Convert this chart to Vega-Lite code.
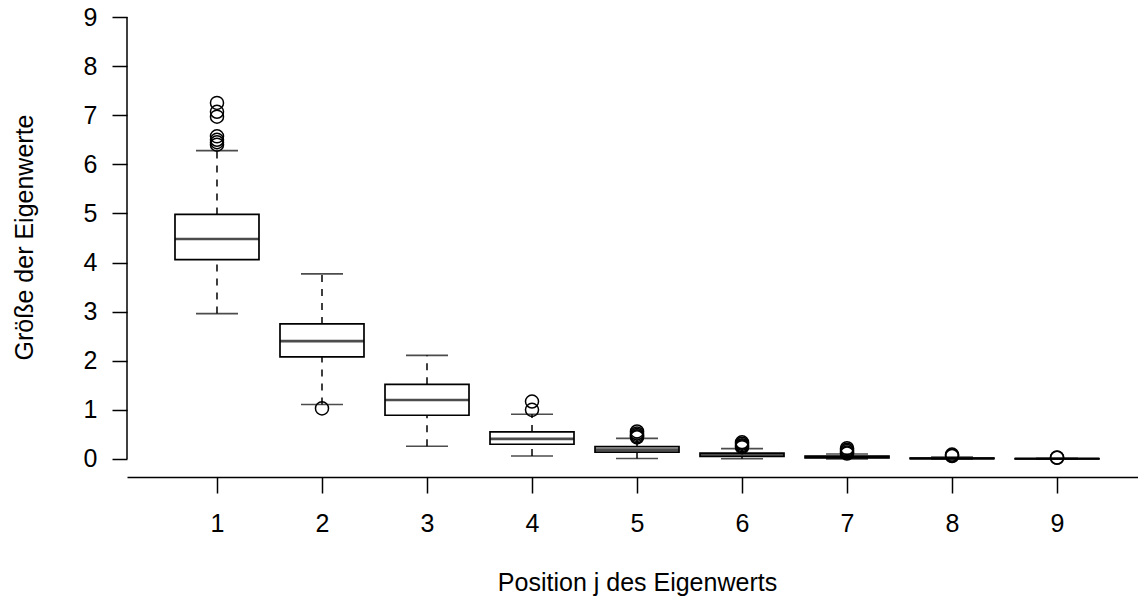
{
  "$schema": "https://vega.github.io/schema/vega-lite/v6.json",
  "autosize": {"type": "none"},
  "width": 1011,
  "height": 460,
  "padding": {"left": 127, "top": 17, "right": 0, "bottom": 121},
  "background": "white",
  "config": {
    "view": {"stroke": null},
    "font": "Liberation Sans",
    "axis": {"labelFont": "Liberation Sans", "titleFont": "Liberation Sans", "labelColor": "black", "titleColor": "black", "titleFontWeight": "normal", "grid": false, "domainColor": "black", "tickColor": "black", "labelFontSize": 25, "titleFontSize": 25, "tickWidth": 1.5, "domainWidth": 1.5}
  },
  "datasets": {
    "boxes": [
      {"pos": 1, "lo": 2.96, "q1": 4.06, "med": 4.48, "q3": 4.98, "hi": 6.28},
      {"pos": 2, "lo": 1.11, "q1": 2.08, "med": 2.40, "q3": 2.75, "hi": 3.77},
      {"pos": 3, "lo": 0.26, "q1": 0.89, "med": 1.20, "q3": 1.52, "hi": 2.11},
      {"pos": 4, "lo": 0.06, "q1": 0.30, "med": 0.41, "q3": 0.55, "hi": 0.91},
      {"pos": 5, "lo": 0.01, "q1": 0.14, "med": 0.19, "q3": 0.25, "hi": 0.42},
      {"pos": 6, "lo": 0.005, "q1": 0.05, "med": 0.085, "q3": 0.12, "hi": 0.21},
      {"pos": 7, "lo": 0.002, "q1": 0.022, "med": 0.04, "q3": 0.058, "hi": 0.1},
      {"pos": 8, "lo": 0.0005, "q1": 0.008, "med": 0.013, "q3": 0.02, "hi": 0.04},
      {"pos": 9, "lo": 0.0001, "q1": 0.002, "med": 0.004, "q3": 0.007, "hi": 0.015}
    ],
    "outliers": [
      {"pos": 1, "v": 7.25}, {"pos": 1, "v": 7.07}, {"pos": 1, "v": 6.97}, {"pos": 1, "v": 6.57}, {"pos": 1, "v": 6.5}, {"pos": 1, "v": 6.45}, {"pos": 1, "v": 6.4},
      {"pos": 2, "v": 1.03},
      {"pos": 4, "v": 1.17}, {"pos": 4, "v": 1.0},
      {"pos": 5, "v": 0.56}, {"pos": 5, "v": 0.52}, {"pos": 5, "v": 0.49}, {"pos": 5, "v": 0.46}, {"pos": 5, "v": 0.44},
      {"pos": 6, "v": 0.34}, {"pos": 6, "v": 0.31}, {"pos": 6, "v": 0.28}, {"pos": 6, "v": 0.26}, {"pos": 6, "v": 0.24},
      {"pos": 7, "v": 0.22}, {"pos": 7, "v": 0.19}, {"pos": 7, "v": 0.16}, {"pos": 7, "v": 0.13}, {"pos": 7, "v": 0.11},
      {"pos": 8, "v": 0.09}, {"pos": 8, "v": 0.07}, {"pos": 8, "v": 0.06},
      {"pos": 9, "v": 0.03}, {"pos": 9, "v": 0.025}
    ]
  },
  "encoding": {
    "x": {"type": "quantitative", "scale": {"domain": [0.143, 9.771], "nice": false, "zero": false, "padding": 0}},
    "y": {"type": "quantitative", "scale": {"domain": [-0.367, 9], "nice": false, "zero": false, "padding": 0}}
  },
  "layer": [
    {
      "data": {"name": "boxes"},
      "mark": {"type": "rule", "color": "black", "strokeWidth": 1.5, "strokeDash": [7, 7]},
      "encoding": {
        "x": {"field": "pos", "type": "quantitative", "title": "Position j des Eigenwerts",
          "axis": {"values": [1,2,3,4,5,6,7,8,9], "format": "d", "tickSize": 16, "labelPadding": 18, "titleBaseline": "alphabetic", "titleX": 510, "titleY": 113, "titleAlign": "center"}},
        "y": {"field": "q3", "type": "quantitative", "title": "Größe der Eigenwerte",
          "axis": {"values": [0,1,2,3,4,5,6,7,8,9], "format": "d", "tickSize": 15, "labelPadding": 15, "domain": false, "titleAngle": -90, "titleBaseline": "alphabetic", "titleAlign": "center", "titleX": -95, "titleY": 220}},
        "y2": {"field": "hi"}
      }
    },
    {
      "data": {"name": "boxes"},
      "mark": {"type": "rule", "color": "black", "strokeWidth": 1.5, "strokeDash": [7, 7]},
      "encoding": {
        "x": {"field": "pos", "type": "quantitative"},
        "y": {"field": "lo", "type": "quantitative"},
        "y2": {"field": "q1"}
      }
    },
    {
      "data": {"name": "boxes"},
      "mark": {"type": "bar", "fill": "white", "stroke": "black", "strokeWidth": 1.7, "width": 84},
      "encoding": {
        "x": {"field": "pos", "type": "quantitative"},
        "y": {"field": "q1", "type": "quantitative"},
        "y2": {"field": "q3"}
      }
    },
    {
      "data": {"name": "boxes"},
      "mark": {"type": "tick", "color": "black", "orient": "horizontal", "size": 84, "thickness": 2.6},
      "encoding": {
        "x": {"field": "pos", "type": "quantitative"},
        "y": {"field": "med", "type": "quantitative"}
      }
    },
    {
      "data": {"name": "boxes"},
      "mark": {"type": "tick", "color": "black", "orient": "horizontal", "size": 42, "thickness": 1.6},
      "encoding": {
        "x": {"field": "pos", "type": "quantitative"},
        "y": {"field": "hi", "type": "quantitative"}
      }
    },
    {
      "data": {"name": "boxes"},
      "mark": {"type": "tick", "color": "black", "orient": "horizontal", "size": 42, "thickness": 1.6},
      "encoding": {
        "x": {"field": "pos", "type": "quantitative"},
        "y": {"field": "lo", "type": "quantitative"}
      }
    },
    {
      "data": {"name": "outliers"},
      "mark": {"type": "point", "shape": "circle", "filled": false, "stroke": "black", "strokeWidth": 1.5, "size": 170, "opacity": 1},
      "encoding": {
        "x": {"field": "pos", "type": "quantitative"},
        "y": {"field": "v", "type": "quantitative"}
      }
    },
    {
      "data": {"values": [{}]},
      "mark": {"type": "rule", "color": "black", "strokeWidth": 1.5},
      "encoding": {
        "x": {"datum": 0.143, "type": "quantitative"},
        "y": {"datum": 0, "type": "quantitative"},
        "y2": {"datum": 9}
      }
    }
  ]
}
